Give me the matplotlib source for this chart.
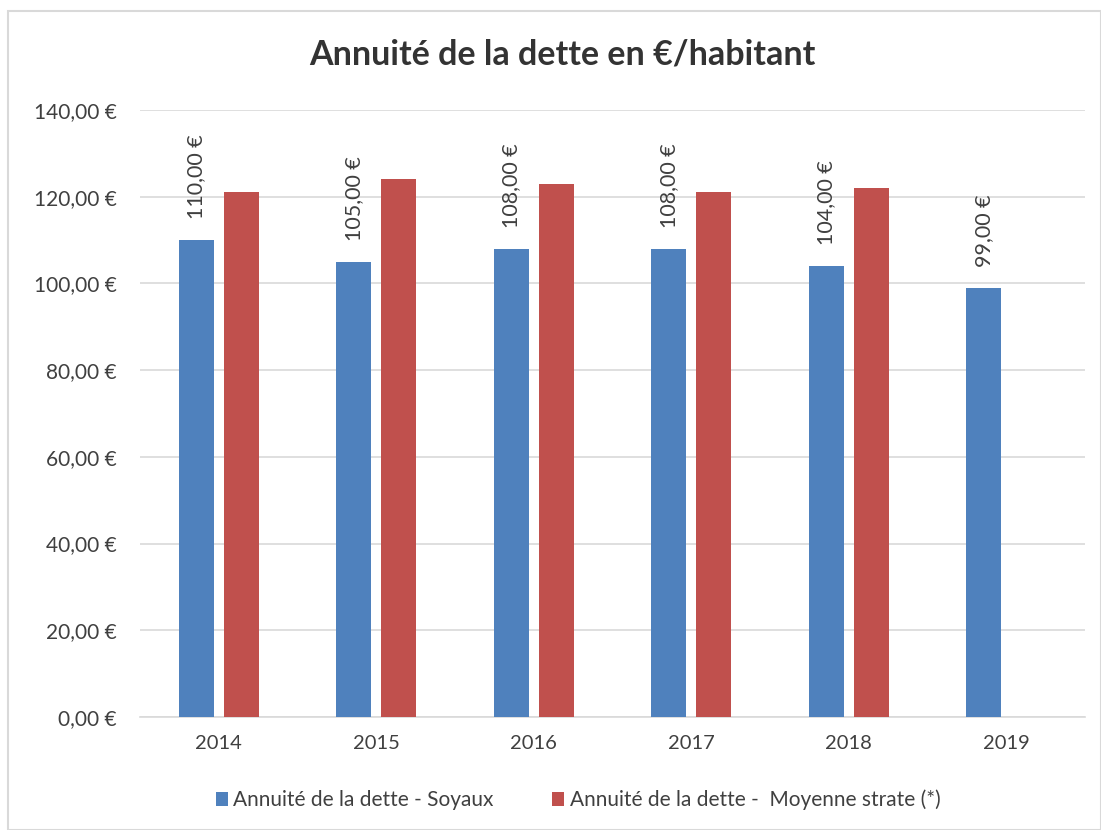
import matplotlib
matplotlib.use("Agg")
import matplotlib.pyplot as plt
from matplotlib.patches import Rectangle
import numpy as np

years = ["2014", "2015", "2016", "2017", "2018", "2019"]
soyaux = [110, 105, 108, 108, 104, 99]
strate = [121, 124, 123, 121, 122, None]
series_names = ["Annuité de la dette - Soyaux", "Annuité de la dette -  Moyenne strate (*)"]
title = "Annuité de la dette en €/habitant"
yticks = [0, 20, 40, 60, 80, 100, 120, 140]

blue = "#4F81BD"
red = "#C0504D"
txt = "#404040"

plt.rcParams['font.family'] = ['Lato', 'DejaVu Sans']

fig = plt.figure(figsize=(11.01, 8.30), dpi=100)
fig.patches.append(Rectangle((8/1101, 0), 1 - 8/1101, 1 - 11/830, transform=fig.transFigure,
                             fill=False, edgecolor="#D9D9D9", linewidth=1.5))
ax = fig.add_axes([140/1101, 1 - 717/830, (1085 - 140)/1101, (717 - 110)/830])

x = np.arange(len(years))
w = 0.222
off = 0.142
ax.bar(x - off, soyaux, width=w, color=blue, label=series_names[0], zorder=3)
xs = [xi + off for xi, v in zip(x, strate) if v is not None]
vs = [v for v in strate if v is not None]
ax.bar(xs, vs, width=w, color=red, label=series_names[1], zorder=3)

for xi, v in zip(x, soyaux):
    ax.annotate(f"{v:.2f} €".replace(".", ","), (xi - off, v), xytext=(0, 15),
                textcoords="offset points", rotation=90, ha="center", va="bottom",
                fontsize=15.5, color=txt)

ax.set_xlim(-0.5, 5.5)
ax.set_ylim(0, 140)
ax.set_yticks(yticks)
ax.set_yticklabels([f"{t:.2f} €".replace(".", ",") for t in yticks], fontsize=15, color=txt)
ax.set_xticks(x)
ax.set_xticklabels(years, fontsize=14.5, color=txt)
ax.tick_params(axis="y", length=0, pad=17)
ax.tick_params(axis="x", length=0, pad=13)
ax.grid(axis="y", color="#D9D9D9", linewidth=1.2, zorder=0)
for s in ["top", "right", "left"]:
    ax.spines[s].set_visible(False)
ax.spines["bottom"].set_color("#D9D9D9")
ax.spines["bottom"].set_linewidth(1.2)

fig.text(562/1101, 1 - 55/830, title, ha="center", va="center", fontsize=24.5,
         fontweight="bold", color="#333333")

fig.legend(loc="center", bbox_to_anchor=(578/1101, 1 - 800/830), ncol=2, frameon=False,
           fontsize=15, handlelength=0.6, handleheight=0.6, handletextpad=0.25,
           columnspacing=2.8, labelcolor=txt)

fig.savefig("out.png", dpi=100)
